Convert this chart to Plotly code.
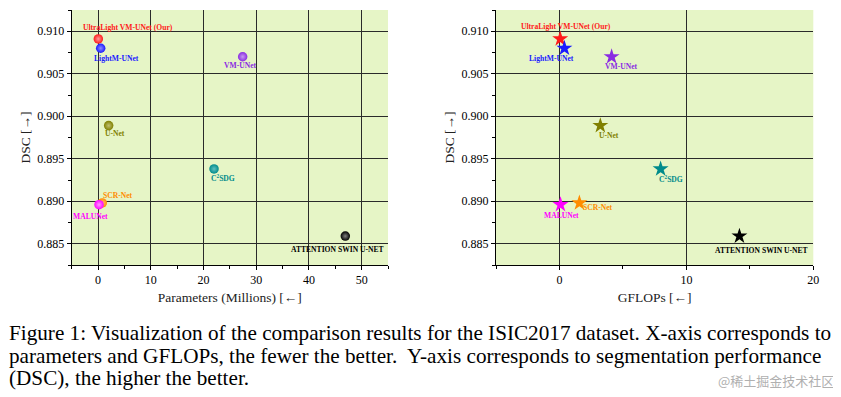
import plotly.graph_objects as go

# ---------------- data ----------------
models = ["UltraLight VM-UNet (Our)", "LightM-UNet", "VM-UNet", "U-Net",
          "C<sup>2</sup>SDG", "SCR-Net", "MALUNet", "ATTENTION SWIN U-NET"]
params_m = [0.049, 0.5, 27.43, 2.01, 22.0, 0.80, 0.18, 46.9]
gflops = [0.06, 0.39, 4.11, 3.22, 7.97, 1.57, 0.08, 14.18]
dsc = [0.9091, 0.9080, 0.9070, 0.8989, 0.8938, 0.8898, 0.8896, 0.8859]
y_ticks = [0.885, 0.890, 0.895, 0.900, 0.905, 0.910]
y_ticklabels = ["0.885", "0.890", "0.895", "0.900", "0.905", "0.910"]

# ---------------- styles ----------------
colors = ["#ff1a1a", "#1a1aff", "#8a2be2", "#808000", "#008b8b",
          "#ff8c00", "#ff00ff", "#000000"]
highlights = ["#ff9a9a", "#8a8aff", "#c79af0", "#c0c070", "#60c0c0",
              "#ffc27a", "#ff9aff", "#808080"]
left_shift = [(30, 11), (16, -10), (-2, -9), (6, -8), (9, -9), (16, 7), (-9, -12), (-8, -13)]
right_shift = [(6, 12), (-13, -10), (10, -10), (9, -10), (10, -10), (19, -5), (1, -11), (22, -14)]

# the page body has an 8px margin; work in window pixels and convert
OFF = 8
WIN_W, WIN_H = 841, 397
W, H = WIN_W - OFF, WIN_H - OFF
SERIF = "Liberation Serif"
BG = "#e6f5c6"


def fx(v):
    return (v - OFF) / W


def fy(v):
    return 1 - (v - OFF) / H


fig = go.Figure()

for i, m in enumerate(models):
    fig.add_trace(go.Scatter(
        x=[params_m[i]], y=[dsc[i]], mode="markers", xaxis="x", yaxis="y",
        marker=dict(size=9.5, color=colors[i], line=dict(width=0),
                    gradient=dict(type="radial", color=highlights[i])),
        showlegend=False, hoverinfo="skip"))
    fig.add_trace(go.Scatter(
        x=[gflops[i]], y=[dsc[i]], mode="markers", xaxis="x2", yaxis="y2",
        marker=dict(size=12, symbol="star", color=colors[i], line=dict(width=0)),
        showlegend=False, hoverinfo="skip"))

annotations = []
for i, m in enumerate(models):
    annotations.append(dict(x=params_m[i], y=dsc[i], xref="x", yref="y", text=f"<b>{m}</b>",
                            showarrow=False, xshift=left_shift[i][0], yshift=left_shift[i][1],
                            font=dict(family=SERIF, size=7.6, color=colors[i])))
    annotations.append(dict(x=gflops[i], y=dsc[i], xref="x2", yref="y2", text=f"<b>{m}</b>",
                            showarrow=False, xshift=right_shift[i][0], yshift=right_shift[i][1],
                            font=dict(family=SERIF, size=7.6, color=colors[i])))

caption = [
    "Figure 1: Visualization of the comparison results for the ISIC2017 dataset. X-axis corresponds to",
    "parameters and GFLOPs, the fewer the better.  Y-axis corresponds to segmentation performance",
    "(DSC), the higher the better.",
]
cap_y = [333, 356, 378]
for t, yy in zip(caption, cap_y):
    annotations.append(dict(x=fx(7), y=fy(yy), xref="paper", yref="paper", text=t,
                            showarrow=False, xanchor="left", yanchor="middle",
                            font=dict(family=SERIF, size=21.2, color="black")))
annotations.append(dict(x=fx(836), y=fy(380), xref="paper", yref="paper",
                        text="@稀土掘金技术社区", showarrow=False, xanchor="right", yanchor="middle",
                        font=dict(family="Noto Sans CJK SC", size=13, color="#b0b0b0")))

ydom = [fy(265), fy(10)]

common_axis = dict(showline=True, linecolor="black", linewidth=1, mirror=False,
                   ticks="outside", ticklen=4, tickcolor="black", automargin=False,
                   showgrid=True, gridcolor="#2a2a2a", gridwidth=1, zeroline=False,
                   tickfont=dict(family=SERIF, size=12, color="black"))
minor_x = dict(ticks="outside", ticklen=3, tickcolor="black", dtick=5, tick0=0, showgrid=False)
minor_y = dict(ticks="outside", ticklen=3, tickcolor="black", dtick=0.0025, tick0=0.8825, showgrid=False)

xaxis = dict(common_axis, domain=[fx(71.7), fx(388)], range=[-5, 55], anchor="y",
             tick0=0, dtick=10, minor=minor_x,
             title=dict(text="Parameters (Millions) [←]", standoff=6,
                        font=dict(family=SERIF, size=13.5, color="#222")))
xaxis2 = dict(common_axis, domain=[fx(496), fx(813.3)], range=[-5, 20], anchor="y2",
              tick0=0, dtick=10, minor=minor_x,
              title=dict(text="GFLOPs [←]", standoff=6,
                         font=dict(family=SERIF, size=13.5, color="#222")))
yaxis = dict(common_axis, domain=ydom, range=[0.8825, 0.9125], anchor="x",
             tickvals=y_ticks, ticktext=y_ticklabels, minor=minor_y,
             title=dict(text="DSC [→]", standoff=3,
                        font=dict(family=SERIF, size=13.5, color="#222")))
yaxis2 = dict(common_axis, domain=ydom, range=[0.8825, 0.9125], anchor="x2",
              tickvals=y_ticks, ticktext=y_ticklabels, minor=minor_y,
              title=dict(text="DSC [→]", standoff=3,
                         font=dict(family=SERIF, size=13.5, color="#222")))

fig.update_layout(
    width=W, height=H, margin=dict(l=0, r=0, t=0, b=0),
    paper_bgcolor="white", plot_bgcolor=BG,
    xaxis=xaxis, yaxis=yaxis, xaxis2=xaxis2, yaxis2=yaxis2,
    annotations=annotations, showlegend=False,
)

fig.write_html("out.html")
